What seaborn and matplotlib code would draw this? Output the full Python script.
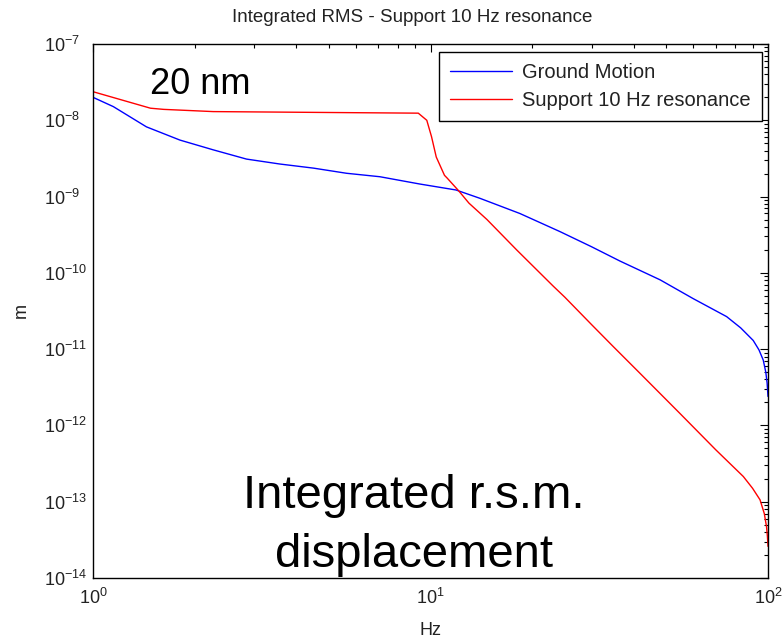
import matplotlib
matplotlib.use("Agg")
import matplotlib.pyplot as plt
import seaborn as sns
import pandas as pd
import numpy as np

# Ground Motion series (Hz, m)
gm_freq = [1.0, 1.149, 1.44, 1.81, 2.27, 2.85, 3.58, 4.5, 5.64, 7.08, 9.3, 11.9, 14.0,
           18.4, 24.2, 30.0, 36.4, 47.9, 60.0, 75.4, 83.0, 90.4, 94.0, 96.8, 98.5, 99.4,
           100.0]
gm_vals = [2.0e-8, 1.51e-8, 8.2e-9, 5.5e-9, 4.1e-9, 3.1e-9, 2.67e-9, 2.36e-9, 2.02e-9,
           1.82e-9, 1.46e-9, 1.22e-9, 9.5e-10, 6.0e-10, 3.47e-10, 2.2e-10, 1.43e-10,
           8.1e-11, 4.6e-11, 2.67e-11, 1.9e-11, 1.3e-11, 9.8e-12, 7.2e-12, 5.0e-12,
           3.6e-12, 2.4e-12]

# Support 10 Hz resonance series (Hz, m)
sr_freq = [1.0, 1.48, 1.62, 2.27, 5.64, 9.2, 9.75, 10.07, 10.4, 11.0, 11.2, 12.1, 13.0,
           14.7, 18.0, 23.1, 25.0, 30.0, 34.8, 41.8, 54.8, 70.0, 84.5, 90.0, 94.7, 97.5,
           99.0, 99.6, 100.0]
sr_vals = [2.37e-8, 1.44e-8, 1.39e-8, 1.30e-8, 1.26e-8, 1.24e-8, 1.0e-8, 6.1e-9, 3.3e-9,
           1.9e-9, 1.75e-9, 1.2e-9, 8.2e-10, 5.0e-10, 2.0e-10, 6.7e-11, 4.8e-11, 2.1e-11,
           1.08e-11, 4.8e-12, 1.44e-12, 4.8e-13, 2.14e-13, 1.5e-13, 1.06e-13, 7.0e-14,
           4.7e-14, 3.5e-14, 2.6e-14]

series_names = ["Ground Motion", "Support 10 Hz resonance"]
series_colors = ["#0000ff", "#ff0000"]

x_ticks = [1, 10, 100]
y_ticks = [1e-14, 1e-13, 1e-12, 1e-11, 1e-10, 1e-9, 1e-8, 1e-7]

title_text = "Integrated RMS - Support 10 Hz resonance"
xlabel_text = "Hz"
ylabel_text = "m"
note1 = "20 nm"
note2_line1 = "Integrated r.s.m."
note2_line2 = "displacement"

df = pd.concat([
    pd.DataFrame({"Hz": gm_freq, "m": gm_vals, "series": series_names[0]}),
    pd.DataFrame({"Hz": sr_freq, "m": sr_vals, "series": series_names[1]}),
], ignore_index=True)

sns.set_style("white")
plt.rcParams["font.family"] = ["Liberation Sans", "DejaVu Sans"]
plt.rcParams["mathtext.fontset"] = "custom"
plt.rcParams["mathtext.rm"] = "Liberation Sans"
plt.rcParams["mathtext.it"] = "Liberation Sans"
plt.rcParams["mathtext.bf"] = "Liberation Sans"
plt.rcParams["axes.unicode_minus"] = False

fig = plt.figure(figsize=(7.84, 6.42), dpi=100)
ax = fig.add_axes([93 / 784, 1 - 578 / 642, (768 - 93) / 784, (578 - 44) / 642])
ax.set_xscale("log")
ax.set_yscale("log")

sns.lineplot(data=df, x="Hz", y="m", hue="series", palette=series_colors,
             hue_order=series_names, estimator=None, sort=True, linewidth=1.0, ax=ax)

ax.set_xlim(1, 100)
ax.set_ylim(1e-14, 1e-7)

for sp in ax.spines.values():
    sp.set_color("black")
    sp.set_linewidth(1.0)
    sp.set_visible(True)

ax.xaxis.set_major_locator(matplotlib.ticker.FixedLocator(x_ticks))
ax.yaxis.set_major_locator(matplotlib.ticker.FixedLocator(y_ticks))
ax.xaxis.set_major_formatter(matplotlib.ticker.LogFormatterSciNotation())
ax.yaxis.set_major_formatter(matplotlib.ticker.LogFormatterSciNotation())
ax.yaxis.set_minor_locator(matplotlib.ticker.LogLocator(base=10, subs=np.arange(2, 10), numticks=20))
ax.xaxis.set_minor_locator(matplotlib.ticker.LogLocator(base=10, subs=np.arange(2, 10), numticks=20))
ax.yaxis.set_minor_formatter(matplotlib.ticker.NullFormatter())
ax.xaxis.set_minor_formatter(matplotlib.ticker.NullFormatter())

ax.tick_params(which="both", direction="in", top=True, right=True, colors="black",
               labelcolor="#222222", labelsize=13, width=0.8)
ax.tick_params(which="major", length=6)
ax.tick_params(which="minor", length=3)
ax.tick_params(axis="x", which="major", pad=7)
ax.tick_params(axis="y", which="major", pad=35)
for lab in ax.get_yticklabels():
    lab.set_horizontalalignment("left")

fig.text(412 / 784, 1 - 17 / 642, title_text, fontsize=13.5, color="#222222",
         ha="center", va="center")
ax.set_xlabel(xlabel_text, fontsize=13, color="#222222")
ax.xaxis.set_label_coords(0.5, -0.082)
ax.set_ylabel(ylabel_text, fontsize=13, color="#222222")
ax.yaxis.set_label_coords(-0.093, 0.5)

leg = ax.legend(loc="upper right", bbox_to_anchor=((762 - 93) / 675, (578 - 52) / 534),
                fontsize=14.5, frameon=True, fancybox=False, framealpha=1,
                edgecolor="black", borderaxespad=0.0, handlelength=3.1,
                handletextpad=0.5, borderpad=0.55, labelspacing=0.45)
leg.get_frame().set_linewidth(1.0)
for t in leg.get_texts():
    t.set_color("#222222")

ax.text((150 - 93) / 675, (578 - 94) / 534, note1, transform=ax.transAxes, fontsize=26,
        ha="left", va="baseline", color="black")
ax.text((414 - 93) / 675, (578 - 508) / 534, note2_line1, transform=ax.transAxes,
        fontsize=34, ha="center", va="baseline", color="black")
ax.text((414 - 93) / 675, (578 - 567) / 534, note2_line2, transform=ax.transAxes,
        fontsize=34, ha="center", va="baseline", color="black")

fig.savefig("out.png", dpi=100)
